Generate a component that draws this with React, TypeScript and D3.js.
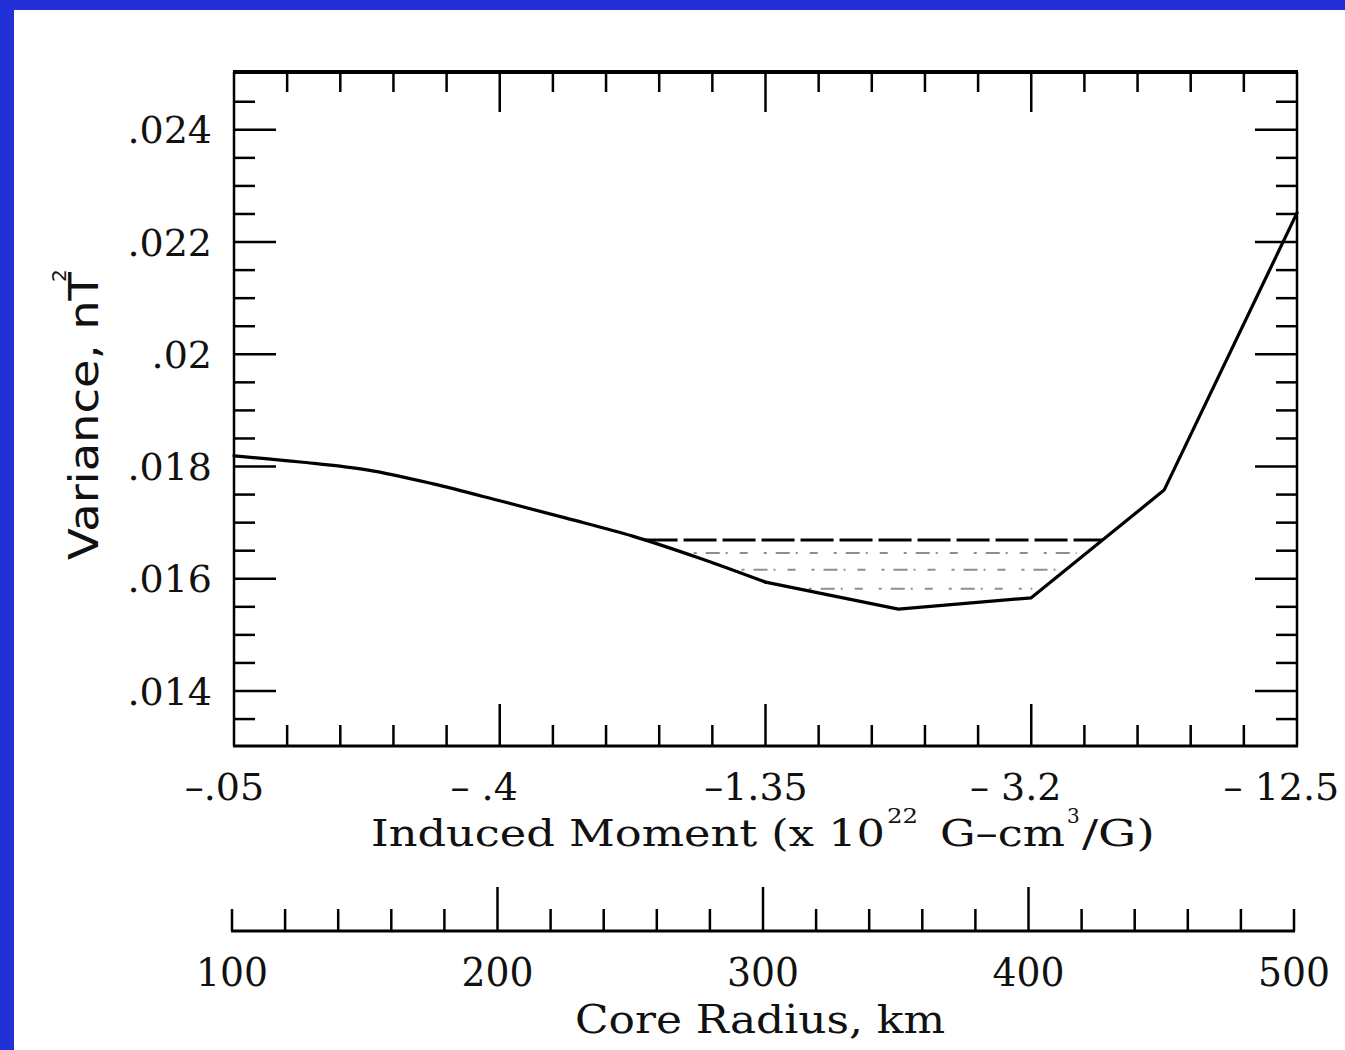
import React from 'react';
import * as d3 from 'd3';

// ---- data ----
const coreRadius = [100, 125, 150, 175, 200, 225, 250, 275, 300, 350, 400, 450, 500];
const variance = [0.01819, 0.01808, 0.01794, 0.01769, 0.01739, 0.01708, 0.01676, 0.01637, 0.01594, 0.01546, 0.01566, 0.01758, 0.02252];
const varianceTicks = [0.014, 0.016, 0.018, 0.02, 0.022, 0.024];
const varianceTickLabels = ['.014', '.016', '.018', '.02', '.022', '.024'];
const radiusTicks = [100, 200, 300, 400, 500];
const radiusTickLabels = ['100', '200', '300', '400', '500'];
const momentTickLabels = ['–.05', '– .4', '–1.35', '– 3.2', '– 12.5'];
const confidenceLevel = 0.01669;
const hatchLevels = [0.01646, 0.01616, 0.01582];
const smoothUntilRadius = 300;

const W = 1345;
const H = 1050;
const L = 234, R = 1297, T = 72, B = 746;
const BLUE = '#2330d6';

const x = d3.scaleLinear().domain([100, 500]).range([L, R]);
const x2 = d3.scaleLinear().domain([100, 500]).range([232, 1294]);
const y = d3.scaleLinear().domain([0.01302, 0.02503]).range([B, T]);

const pts: [number, number][] = coreRadius.map((r, i) => [r, variance[i]]);
const smoothLine = d3.line<[number, number]>().x(d => x(d[0])).y(d => y(d[1])).curve(d3.curveMonotoneX);
const straightLine = d3.line<[number, number]>().x(d => x(d[0])).y(d => y(d[1]));
const leftPts = pts.filter(p => p[0] <= smoothUntilRadius);
const rightPts = pts.filter(p => p[0] >= smoothUntilRadius);

function crossings(level: number): number[] {
  const out: number[] = [];
  for (let i = 0; i < pts.length - 1; i++) {
    const [r0, v0] = pts[i];
    const [r1, v1] = pts[i + 1];
    if ((v0 - level) * (v1 - level) <= 0 && v0 !== v1) {
      const t = (level - v0) / (v1 - v0);
      out.push(r0 + t * (r1 - r0));
    }
  }
  return out;
}

const yMinor = d3.range(27, 50).map(i => ({ v: i * 0.0005, major: i % 4 === 0 }));
const xMinor = d3.range(5, 26).map(i => ({ r: i * 20, major: i % 5 === 0 }));

function numWidth(s: string, fs: number) {
  let w = 0;
  for (const c of s) {
    if (c >= '0' && c <= '9') w += 0.636 * fs;
    else if (c === '.') w += 0.318 * fs;
  }
  return w;
}

export default function App() {
  const serif = '"DejaVu Serif", serif';
  const sans = '"DejaVu Sans", sans-serif';
  const conf = crossings(confidenceLevel);
  return (
    <svg width={W} height={H} style={{ position: 'absolute', left: 0, top: 0, display: 'block', background: '#fff' }}>
      <rect x={0} y={0} width={W} height={H} fill="#fff" />
      <rect x={0} y={0} width={14} height={H} fill={BLUE} />
      <rect x={0} y={0} width={W} height={10} fill={BLUE} />

      {/* frame */}
      <line x1={L - 1} x2={R + 1} y1={T} y2={T} stroke="#000" strokeWidth={4} />
      <line x1={L - 1} x2={R + 1} y1={B} y2={B} stroke="#000" strokeWidth={3} />
      <line x1={L} x2={L} y1={T} y2={B} stroke="#000" strokeWidth={2.5} />
      <line x1={R} x2={R} y1={T} y2={B} stroke="#000" strokeWidth={2.5} />

      {/* y ticks left & right */}
      {yMinor.map((t, i) => {
        const len = t.major ? 42 : 21;
        const yy = y(t.v);
        return (
          <g key={'yt' + i}>
            <line x1={L} x2={L + len} y1={yy} y2={yy} stroke="#000" strokeWidth={2.5} />
            <line x1={R} x2={R - len} y1={yy} y2={yy} stroke="#000" strokeWidth={2.5} />
          </g>
        );
      })}
      {/* x ticks top & bottom */}
      {xMinor.filter(t => t.r > 100 && t.r < 500).map((t, i) => {
        const xx = x(t.r);
        return (
          <g key={'xt' + i}>
            <line x1={xx} x2={xx} y1={T} y2={T + (t.major ? 40 : 20)} stroke="#000" strokeWidth={2.5} />
            <line x1={xx} x2={xx} y1={B} y2={B - (t.major ? 42 : 21)} stroke="#000" strokeWidth={2.5} />
          </g>
        );
      })}

      {/* y tick labels */}
      {varianceTicks.map((v, i) => (
        <text key={'yl' + i} x={212} y={y(v)} dy="0.36em" textAnchor="end" fontFamily={serif} fontSize={38} fill="#111">
          {varianceTickLabels[i]}
        </text>
      ))}

      {/* y title */}
      <g transform={`translate(98,560) rotate(-90)`}>
        <text x={0} y={0} fontFamily={sans} fontSize={40} textLength={288} lengthAdjust="spacingAndGlyphs" fill="#111">
          Variance, nT
        </text>
        <text x={278} y={-32} fontFamily={sans} fontSize={20} fill="#111">2</text>
      </g>

      {/* hatch lines (faint) */}
      {hatchLevels.map((lv, i) => {
        const c = crossings(lv);
        if (c.length < 2) return null;
        return (
          <line key={'h' + i} x1={x(c[0]) + 10} x2={x(c[c.length - 1]) - 10} y1={y(lv)} y2={y(lv)}
            stroke="#333" strokeWidth={2} strokeDasharray="3 9 14 6 2 12 8 16" opacity={0.55} />
        );
      })}

      {/* confidence dashed line */}
      {conf.length >= 2 && (
        <line x1={x(conf[0])} x2={x(conf[conf.length - 1])} y1={y(confidenceLevel)} y2={y(confidenceLevel)}
          stroke="#000" strokeWidth={3} strokeDasharray="33 6" />
      )}

      {/* curve */}
      <path d={smoothLine(leftPts) || ''} fill="none" stroke="#000" strokeWidth={3.2} strokeLinejoin="round" strokeLinecap="round" />
      <path d={straightLine(rightPts) || ''} fill="none" stroke="#000" strokeWidth={3.2} strokeLinejoin="round" strokeLinecap="round" />

      {/* moment labels */}
      {radiusTicks.map((r, i) => {
        const lab = momentTickLabels[i];
        const fs = 38;
        return (
          <text key={'ml' + i} x={x(r) + numWidth(lab, fs) / 2} y={800} textAnchor="end" fontFamily={serif} fontSize={fs} fill="#111" xmlSpace="preserve" style={{ whiteSpace: 'pre' }}>
            {lab}
          </text>
        );
      })}

      {/* x title */}
      <g fontFamily={serif} fill="#111">
        <text x={371} y={846} fontSize={38} textLength={514} lengthAdjust="spacingAndGlyphs">Induced Moment (x 10</text>
        <text x={887} y={823} fontSize={20} textLength={31} lengthAdjust="spacingAndGlyphs">22</text>
        <text x={940} y={846} fontSize={38} textLength={125} lengthAdjust="spacingAndGlyphs">G–cm</text>
        <text x={1067} y={823} fontSize={20}>3</text>
        <text x={1082} y={846} fontSize={38} textLength={73} lengthAdjust="spacingAndGlyphs">/G)</text>
      </g>

      {/* core radius axis */}
      <line x1={x2(100) - 1} x2={x2(500) + 1} y1={931} y2={931} stroke="#000" strokeWidth={3} />
      {xMinor.map((t, i) => {
        const xx = x2(t.r);
        const isEnd = t.r === 100 || t.r === 500;
        const len = t.major && !isEnd ? 44 : 22;
        return <line key={'ct' + i} x1={xx} x2={xx} y1={931} y2={931 - len} stroke="#000" strokeWidth={2.5} />;
      })}
      {radiusTicks.map((r, i) => (
        <text key={'cl' + i} x={x2(r)} y={986} textAnchor="middle" fontFamily={serif} fontSize={40} textLength={72} lengthAdjust="spacingAndGlyphs" fill="#111">
          {radiusTickLabels[i]}
        </text>
      ))}
      <text x={760} y={1033} textAnchor="middle" fontFamily={serif} fontSize={39} textLength={370} lengthAdjust="spacingAndGlyphs" fill="#111">
        Core Radius, km
      </text>
    </svg>
  );
}
